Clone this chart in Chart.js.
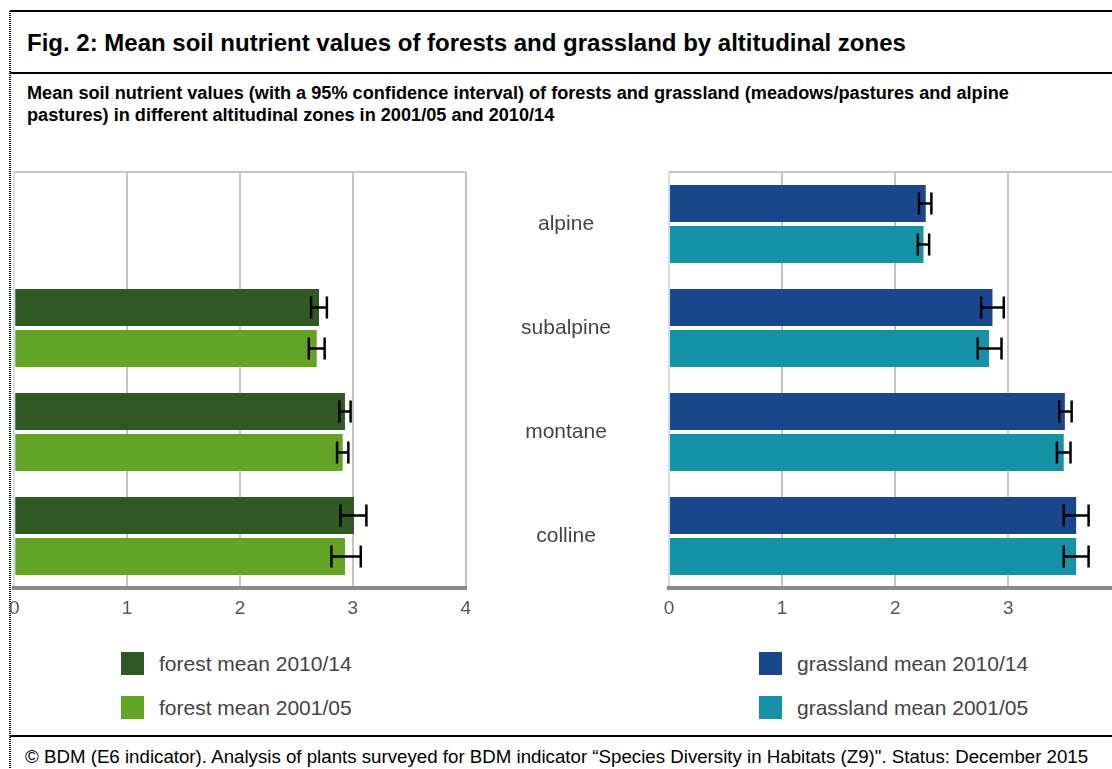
<!DOCTYPE html>
<html>
<head>
<meta charset="utf-8">
<script src="https://cdn.jsdelivr.net/npm/chart.js@4.4.1/dist/chart.umd.min.js"></script>
<style>
    html, body {
        margin: 0;
        padding: 0;
        width: 1112px;
        height: 769px;
        overflow: hidden;
        background: #fff;
        font-family: "Liberation Sans", Arial, sans-serif;
    }
    body { position: relative; }
    .dots {
        position: absolute;
        left: 9px;
        top: 11px;
        width: 2px;
        height: 758px;
        background: repeating-linear-gradient(to bottom, #000 0 1px, transparent 1px 2px);
    }
    .rule {
        position: absolute;
        left: 10px;
        right: 0;
        height: 2px;
        background: #000;
    }
    #title {
        position: absolute;
        left: 27px;
        top: 31px;
        font-size: 24px;
        line-height: 1;
        font-weight: bold;
        white-space: nowrap;
    }
    #subtitle {
        position: absolute;
        left: 27px;
        top: 82px;
        font-size: 18.15px;
        line-height: 22px;
        font-weight: bold;
        white-space: nowrap;
    }
    #footer {
        position: absolute;
        left: 25px;
        top: 748px;
        font-size: 18.7px;
        line-height: 1;
        white-space: nowrap;
    }
    .chart-box { position: absolute; top: 160px; height: 460px; }
    #forestBox { left: 0; width: 480px; }
    #grassBox { left: 470px; width: 680px; }
    .legend { position: absolute; top: 652px; }
    .legend-item {
        height: 23px;
        margin-bottom: 21px;
        display: flex;
        align-items: center;
        font-size: 21px;
        color: #444;
        white-space: nowrap;
    }
    .legend-item span.box {
        width: 23px;
        height: 23px;
        margin-right: 15px;
        flex: none;
    }
</style>
</head>
<body>
<div class="dots"></div>
<div class="rule" style="top:10px"></div>
<div class="rule" style="top:72px"></div>
<div class="rule" style="top:735px"></div>

<div id="title">Fig. 2: Mean soil nutrient values of forests and grassland by altitudinal zones</div>
<div id="subtitle">Mean soil nutrient values (with a 95% confidence interval) of forests and grassland (meadows/pastures and alpine<br>pastures) in different altitudinal zones in 2001/05 and 2010/14</div>

<div class="chart-box" id="forestBox"><canvas id="forestChart"></canvas></div>
<div class="chart-box" id="grassBox"><canvas id="grassChart"></canvas></div>

<div class="legend" id="forestLegend" style="left:121px"></div>
<div class="legend" id="grassLegend" style="left:759px"></div>

<div id="footer">© BDM (E6 indicator). Analysis of plants surveyed for BDM indicator “Species Diversity in Habitats (Z9)". Status: December 2015</div>

<script>
// Zonas altitudinais (de cima para baixo)
const zones = ['alpine', 'subalpine', 'montane', 'colline'];
const xTicks = [0, 1, 2, 3, 4];

// Floresta: não há floresta na zona alpina
const forestMean1014 = [null, 2.70, 2.93, 3.01];
const forestLow1014 = [null, 2.63, 2.88, 2.89];
const forestHigh1014 = [null, 2.77, 2.98, 3.12];

const forestMean0105 = [null, 2.68, 2.91, 2.93];
const forestLow0105 = [null, 2.61, 2.86, 2.81];
const forestHigh0105 = [null, 2.75, 2.96, 3.07];

// Pastagens
const grassMean1014 = [2.27, 2.86, 3.50, 3.60];
const grassLow1014 = [2.21, 2.76, 3.45, 3.49];
const grassHigh1014 = [2.32, 2.96, 3.56, 3.71];

const grassMean0105 = [2.25, 2.83, 3.49, 3.60];
const grassLow0105 = [2.20, 2.73, 3.43, 3.49];
const grassHigh0105 = [2.30, 2.94, 3.55, 3.71];

const FONT = '"Liberation Sans", Arial, sans-serif';

// Barras de erro (intervalo de confiança de 95%)
const errorBars = {
    id: 'errorBars',
    afterDatasetsDraw(chart) {
        const ctx = chart.ctx;
        const xScale = chart.scales.x;
        ctx.save();
        ctx.strokeStyle = '#000';
        ctx.lineWidth = 2.5;
        chart.data.datasets.forEach((ds, i) => {
            chart.getDatasetMeta(i).data.forEach((bar, j) => {
                if (ds.errLow[j] == null) return;
                const x0 = xScale.getPixelForValue(ds.errLow[j]);
                const x1 = xScale.getPixelForValue(ds.errHigh[j]);
                const y = bar.y;
                const h = 11;
                ctx.beginPath();
                ctx.moveTo(x0, y); ctx.lineTo(x1, y);
                ctx.moveTo(x0, y - h); ctx.lineTo(x0, y + h);
                ctx.moveTo(x1, y - h); ctx.lineTo(x1, y + h);
                ctx.stroke();
            });
        });
        ctx.restore();
    }
};

// Linha superior da área do gráfico
const topFrame = {
    id: 'topFrame',
    beforeDatasetsDraw(chart) {
        const { ctx, chartArea } = chart;
        ctx.save();
        ctx.strokeStyle = '#c4c4c4';
        ctx.lineWidth = 2;
        ctx.beginPath();
        ctx.moveTo(chartArea.left, chartArea.top);
        ctx.lineTo(chartArea.right, chartArea.top);
        ctx.stroke();
        ctx.restore();
    }
};

function makeDataset(label, data, low, high, color) {
    return {
        label: label,
        data: data,
        errLow: low,
        errHigh: high,
        backgroundColor: color,
        categoryPercentage: 0.79,
        barPercentage: 0.9
    };
}

function xAxis() {
    return {
        min: 0,
        max: 4,
        afterBuildTicks: (scale) => { scale.ticks = xTicks.map(v => ({ value: v })); },
        afterFit: (scale) => { scale.height = 32; },
        grid: {
            color: (c) => c.tick && c.tick.value === 0 ? '#d6dde4' : '#c4c4c4',
            lineWidth: 2,
            drawTicks: false
        },
        border: { color: '#8a8a8a', width: 4 },
        ticks: {
            padding: 9,
            color: '#555',
            font: { family: FONT, size: 19 }
        }
    };
}

const forestDatasets = [
    makeDataset('forest mean 2010/14', forestMean1014, forestLow1014, forestHigh1014, '#2f5823'),
    makeDataset('forest mean 2001/05', forestMean0105, forestLow0105, forestHigh0105, '#63a325')
];

const grassDatasets = [
    makeDataset('grassland mean 2010/14', grassMean1014, grassLow1014, grassHigh1014, '#1a478c'),
    makeDataset('grassland mean 2001/05', grassMean0105, grassLow0105, grassHigh0105, '#1592a6')
];

const forestConfig = {
    type: 'bar',
    data: { labels: zones, datasets: forestDatasets },
    options: {
        indexAxis: 'y',
        responsive: true,
        maintainAspectRatio: false,
        animation: false,
        layout: { padding: { top: 12, left: 14, right: 13, bottom: 0 } },
        plugins: { legend: { display: false }, tooltip: { enabled: false } },
        scales: {
            x: xAxis(),
            y: { display: false }
        }
    },
    plugins: [topFrame, errorBars]
};

const grassConfig = {
    type: 'bar',
    data: { labels: zones, datasets: grassDatasets },
    options: {
        indexAxis: 'y',
        responsive: true,
        maintainAspectRatio: false,
        animation: false,
        layout: { padding: { top: 12, left: 0, right: 28.6, bottom: 0 } },
        plugins: { legend: { display: false }, tooltip: { enabled: false } },
        scales: {
            x: xAxis(),
            y: {
                afterFit: (scale) => { scale.width = 199; },
                // marcas invisíveis só para afastar os rótulos do gráfico
                grid: {
                    display: true,
                    drawOnChartArea: false,
                    drawTicks: true,
                    tickLength: 58,
                    tickColor: 'transparent'
                },
                border: { display: false },
                ticks: {
                    crossAlign: 'center',
                    padding: 0,
                    color: '#444',
                    font: { family: FONT, size: 21, lineHeight: 1 }
                }
            }
        }
    },
    plugins: [topFrame, errorBars]
};

// Legendas em HTML, montadas a partir dos datasets
function buildLegend(id, datasets) {
    const el = document.getElementById(id);
    datasets.forEach(ds => {
        const item = document.createElement('div');
        item.className = 'legend-item';
        const box = document.createElement('span');
        box.className = 'box';
        box.style.background = ds.backgroundColor;
        item.appendChild(box);
        item.appendChild(document.createTextNode(ds.label));
        el.appendChild(item);
    });
}

window.onload = function() {
    new Chart(document.getElementById('forestChart').getContext('2d'), forestConfig);
    new Chart(document.getElementById('grassChart').getContext('2d'), grassConfig);
    buildLegend('forestLegend', forestDatasets);
    buildLegend('grassLegend', grassDatasets);
};
</script>
</body>
</html>
